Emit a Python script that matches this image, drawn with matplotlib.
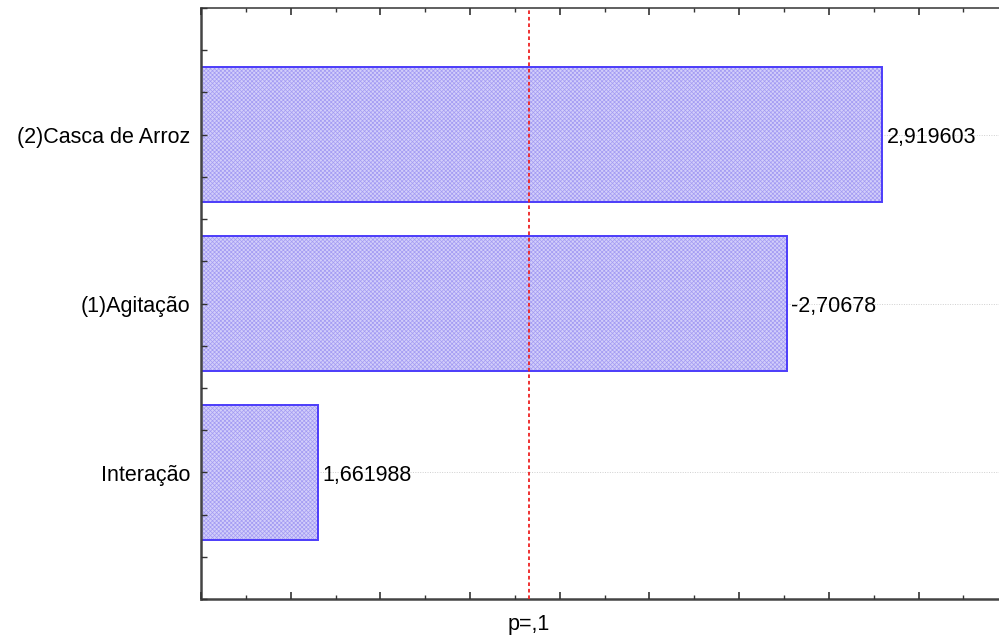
import matplotlib
matplotlib.use("Agg")
import matplotlib.pyplot as plt
from matplotlib.ticker import MultipleLocator

plt.rcParams['font.family'] = ['Liberation Sans', 'DejaVu Sans']
plt.rcParams['hatch.linewidth'] = 0.5

# efeitos padronizados (ordem de Pareto, de baixo para cima)
fatores = ["Interação", "(1)Agitação", "(2)Casca de Arroz"]
efeitos = [1.661988, -2.70678, 2.919603]
p_critico = 2.1318  # t(0.95; 4 gl), p=,1

fig = plt.figure(figsize=(9.99, 6.38), dpi=100)
ax = fig.add_axes([0.2012, 0.0611, 0.808, 0.9263])
ax.set_axisbelow(False)

pos = list(range(len(fatores)))
comprimentos = [abs(e) for e in efeitos]

for y in pos:
    ax.axhline(y, color="#d0d0d0", lw=0.7, ls=(0, (1, 1.5)), zorder=0)

barras = ax.barh(pos, comprimentos, height=0.8, left=0,
                 color="#d2cefa", edgecolor="#4c3cfa", hatch="xxxxxxxx",
                 linewidth=1.4, zorder=2)
for b in barras:
    b._hatch_color = matplotlib.colors.to_rgba("#a39bf3")

for y, c, e in zip(pos, comprimentos, efeitos):
    ax.annotate(str(e).replace(".", ","), xy=(c, y), xytext=(3, -2),
                textcoords="offset points", va="center", ha="left",
                fontsize=15.5, zorder=4)

ax.axvline(p_critico, color="#ee2222", lw=1.3, ls=(0, (2, 1.6)), zorder=3)

ax.set_xlim(1.4, 3.2)
ax.set_ylim(-0.75, 2.75)
ax.xaxis.set_major_locator(MultipleLocator(0.2))
ax.xaxis.set_minor_locator(MultipleLocator(0.1))
ax.set_xticklabels([])
ax.yaxis.set_major_locator(MultipleLocator(0.25))
ax.set_yticklabels([])
ax.tick_params(axis="x", which="major", direction="in", length=5, width=1.2,
               top=True, color="#333333")
ax.tick_params(axis="x", which="minor", direction="in", length=3, width=1.0,
               top=True, color="#333333")
ax.tick_params(axis="y", which="major", direction="in", length=4, width=1.0,
               right=True, color="#333333")

for y, nome in zip(pos, fatores):
    ax.annotate(nome, xy=(0, y), xycoords=("axes fraction", "data"),
                xytext=(-8, -2), textcoords="offset points",
                ha="right", va="center", fontsize=15.5)

ax.annotate("p=,1", xy=(p_critico, 0), xycoords=("data", "axes fraction"),
            xytext=(0, -18), textcoords="offset points",
            ha="center", va="center", fontsize=15.5)

for lado in ["left", "bottom"]:
    ax.spines[lado].set_linewidth(1.8)
    ax.spines[lado].set_color("#444444")
for lado in ["top", "right"]:
    ax.spines[lado].set_linewidth(1.2)
    ax.spines[lado].set_color("#444444")

fig.savefig("out.png", dpi=100)
